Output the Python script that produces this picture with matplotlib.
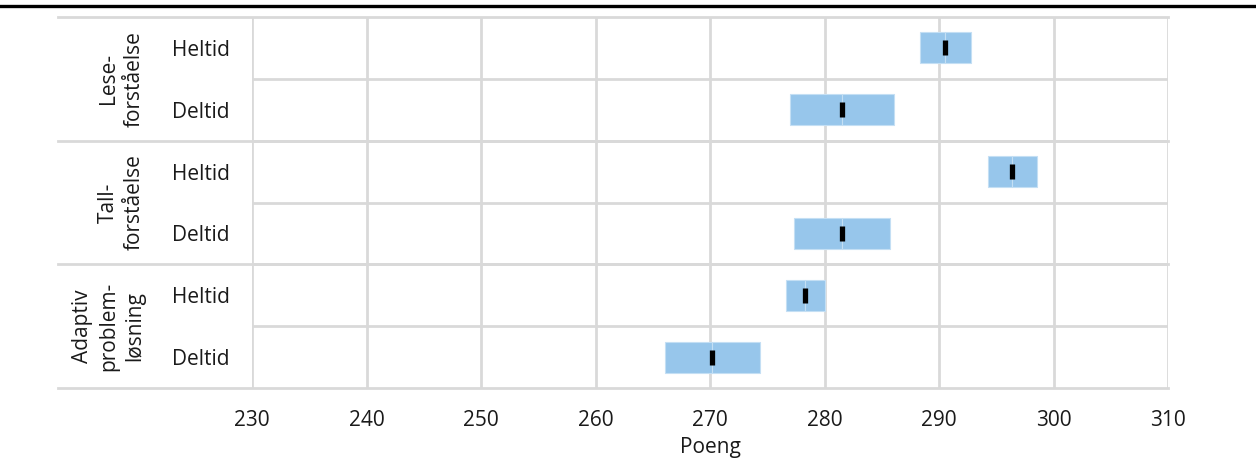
import matplotlib
matplotlib.use("Agg")
from matplotlib import pyplot as plt
from matplotlib.lines import Line2D
import numpy as np

plt.rcParams['font.family'] = ['Open Sans', 'DejaVu Sans']

# data
groups = ["Lese-\nforståelse", "Tall-\nforståelse", "Adaptiv\nproblem-\nløsning"]
rows = ["Heltid", "Deltid", "Heltid", "Deltid", "Heltid", "Deltid"]
means = [290.5, 281.5, 296.4, 281.5, 278.3, 270.2]
low = [288.3, 277.0, 294.3, 277.3, 276.6, 266.1]
high = [292.8, 286.1, 298.6, 285.7, 280.0, 274.4]

bar_col = "#97c6eb"
grid_col = "#d9d9d9"
txt_col = "#1a1a1a"

fig = plt.figure(figsize=(12.56, 4.59), dpi=100)
ax = fig.add_axes([252/1256, 1-388/459, 916/1256, 371/459])

y = np.arange(len(rows))
means = np.array(means)
low = np.array(low)
high = np.array(high)

# confidence band, split at the mean
ax.barh(y, means-low, left=low, height=0.5, color=bar_col, edgecolor="#c4dff4", linewidth=0.8, zorder=3)
ax.barh(y, high-means, left=means, height=0.5, color=bar_col, edgecolor="#c4dff4", linewidth=0.8, zorder=3)
ax.vlines(means, y-0.12, y+0.12, color="black", linewidth=3.8, zorder=4)

ax.set_xlim(230, 310)
ax.set_ylim(5.5, -0.5)
ax.set_xticks(np.arange(230, 311, 10))
ax.tick_params(axis="x", length=0, pad=16, labelsize=15, colors=txt_col)
ax.set_yticks(y)
ax.set_yticklabels(rows, ha="left", fontsize=15, color=txt_col)
ax.tick_params(axis="y", length=0, pad=57.6)

for v in np.arange(230, 311, 10):
    ax.axvline(v, color=grid_col, linewidth=2, zorder=1)
for b in np.arange(0.5, 5, 1):
    ax.axhline(b, color=grid_col, linewidth=2, zorder=1)
for s in ax.spines.values():
    s.set_visible(False)

# group separators reach into the label area
for b in [-0.5, 1.5, 3.5, 5.5]:
    ax.add_line(Line2D([-0.2118, 1.0], [b, b], transform=ax.get_yaxis_transform(),
                       color=grid_col, linewidth=2, clip_on=False, zorder=1))

for i, g in enumerate(groups):
    ax.text(-0.1168, 2*i+0.5, g, transform=ax.get_yaxis_transform(), rotation=90,
            ha="right", va="center", multialignment="center", fontsize=15,
            color=txt_col, linespacing=1.3)

ax.set_xlabel("Poeng", fontsize=15, color=txt_col, labelpad=4)

fig.add_artist(Line2D([0, 1], [1-6/459, 1-6/459], transform=fig.transFigure,
                      color="black", linewidth=2.4))

plt.savefig("out.png", dpi=100)
